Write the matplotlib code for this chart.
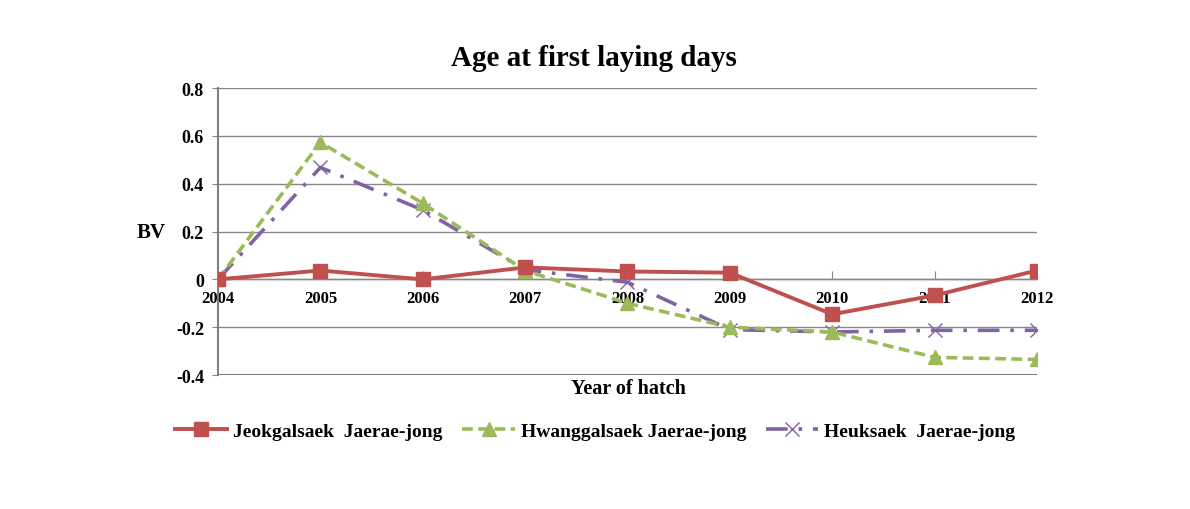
import matplotlib
matplotlib.use("Agg")
import matplotlib.pyplot as plt

years = ["2004", "2005", "2006", "2007", "2008", "2009", "2010", "2011", "2012"]
jeok = [0.0, 0.037, 0.0, 0.05, 0.033, 0.028, -0.146, -0.067, 0.037]
hwang = [0.0, 0.573, 0.318, 0.037, -0.10, -0.20, -0.22, -0.326, -0.335]
heuk = [0.0, 0.468, 0.29, 0.04, -0.012, -0.21, -0.22, -0.213, -0.213]
series_names = ["Jeokgalsaek  Jaerae-jong", "Hwanggalsaek Jaerae-jong", "Heuksaek  Jaerae-jong"]
yticks = [-0.4, -0.2, 0, 0.2, 0.4, 0.6, 0.8]
ytick_labels = ["-0.4", "-0.2", "0", "0.2", "0.4", "0.6", "0.8"]

plt.rcParams['font.family'] = ['Liberation Serif', 'DejaVu Serif']

fig = plt.figure(figsize=(11.9, 5.1), dpi=100)
ax = fig.add_axes([0.1832, 0.2627, 0.6882, 0.5627])

x = list(range(len(years)))
ax.plot(x, jeok, color="#C0504D", lw=2.8, marker="s", ms=10, label=series_names[0], zorder=5)
ax.plot(x, hwang, color="#9BBB59", lw=2.6, ls=(0, (3, 1.5)), marker="^", ms=10, label=series_names[1], zorder=4)
ax.plot(x, heuk, color="#8064A2", lw=2.6, ls=(0, (6, 3, 1, 3)), marker="x", ms=10, mew=1.0, label=series_names[2], zorder=3)

ax.set_xlim(0, len(years) - 1)
ax.set_ylim(-0.4, 0.8)
ax.set_yticks(yticks)
ax.set_yticklabels(ytick_labels, fontsize=13, fontweight="bold")
ax.yaxis.grid(True, color="#888888", lw=1.0)
ax.set_axisbelow(True)

for s in ["top", "right"]:
    ax.spines[s].set_visible(False)
ax.spines["left"].set_color("#808080")
ax.spines["left"].set_linewidth(1.5)
ax.spines["bottom"].set_position(("data", 0))
ax.spines["bottom"].set_color("#888888")
ax.spines["bottom"].set_linewidth(1.0)
ax.axhline(-0.4, color="#707070", lw=2.0, zorder=2)

ax.set_xticks(x)
ax.set_xticklabels(years, fontsize=12, fontweight="bold")
ax.tick_params(axis="x", direction="in", length=6, color="#888888", pad=8)
ax.tick_params(axis="y", length=4, color="#888888", pad=6)

fig.text(0.4995, 0.886, "Age at first laying days", ha="center", va="center",
         fontsize=21, fontweight="bold")
fig.text(0.115, 0.543, "BV", ha="left", va="center", fontsize=15, fontweight="bold")
fig.text(0.528, 0.237, "Year of hatch", ha="center", va="center", fontsize=14.5, fontweight="bold")

fig.legend(loc="center", bbox_to_anchor=(0.500, 0.152), ncol=3, frameon=False,
           prop={"weight": "bold", "size": 14}, handlelength=2.7, columnspacing=1.0,
           handletextpad=0.3)

fig.savefig("out.png", dpi=100, facecolor="white")
